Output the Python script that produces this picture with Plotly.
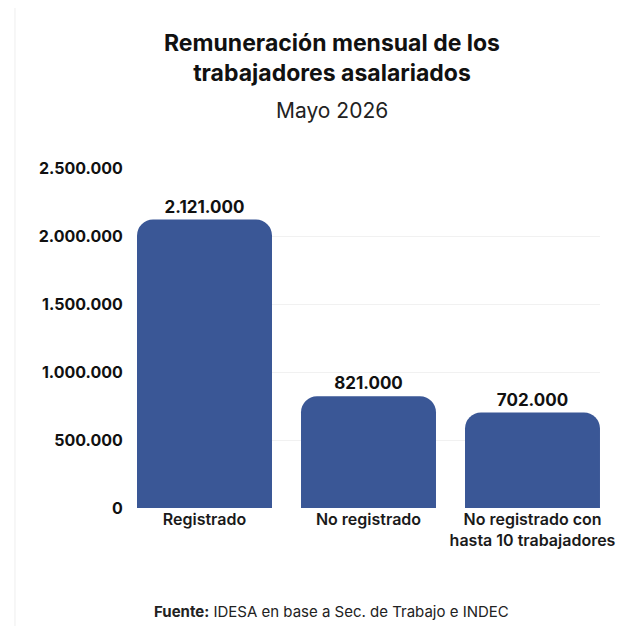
import plotly.graph_objects as go

categorias = ["Registrado", "No registrado", "No registrado con<br>hasta 10 trabajadores"]
remuneracion = [2121000, 821000, 702000]
ticks_y = [0, 500000, 1000000, 1500000, 2000000, 2500000]

BLUE = "#3a5796"
FONT = "Inter"

fig = go.Figure()
fig.add_trace(
    go.Bar(
        x=categorias,
        y=remuneracion,
        marker=dict(color=BLUE, line=dict(width=0)),
        texttemplate="%{y:,d}",
        textposition="outside",
        textfont=dict(family=FONT, size=17, color="#111111", weight="bold"),
        cliponaxis=False,
        hoverinfo="skip",
    )
)

# la página tiene 8 px de margen, por eso el lienzo es algo menor que la ventana
fig.update_layout(
    width=632,
    height=618,
    margin=dict(l=129, r=40, t=160, b=118),
    paper_bgcolor="white",
    plot_bgcolor="white",
    separators=",.",
    bargap=0.177,
    barcornerradius=16,
    showlegend=False,
    font=dict(family=FONT, color="#111111"),
)

fig.update_yaxes(
    range=[0, 2500000],
    tickvals=ticks_y,
    tickformat=",d",
    showgrid=True,
    gridcolor="#f1f1f1",
    gridwidth=1,
    zeroline=False,
    showline=False,
    ticks="outside",
    ticklen=10,
    tickcolor="rgba(0,0,0,0)",
    tickfont=dict(family=FONT, size=16, color="#111111", weight="bold"),
)
fig.update_xaxes(
    range=[-0.4116, 2.4116],
    showgrid=False,
    showline=False,
    ticks="",
    tickfont=dict(family=FONT, size=16, color="#1a1a1a", weight=600),
)

# título, subtítulo y fuente
fig.add_annotation(
    text="<b>Remuneración mensual de los<br>trabajadores asalariados</b>",
    xref="paper", yref="paper", x=0.421, y=1.0, yshift=110,
    xanchor="center", yanchor="middle", showarrow=False,
    font=dict(family=FONT, size=23, color="#111111"),
)
fig.add_annotation(
    text="Mayo 2026",
    xref="paper", yref="paper", x=0.421, y=1.0, yshift=58,
    xanchor="center", yanchor="middle", showarrow=False,
    font=dict(family=FONT, size=21, color="#222222"),
)
fig.add_annotation(
    text="<b>Fuente:</b> IDESA en base a Sec. de Trabajo e INDEC",
    xref="paper", yref="paper", x=0.421, y=0, yshift=-103,
    xanchor="center", yanchor="middle", showarrow=False,
    font=dict(family=FONT, size=15, color="#222222"),
)

# borde izquierdo tenue
fig.add_shape(
    type="line", xref="paper", yref="paper",
    x0=-0.2635, x1=-0.2635, y0=-0.35, y1=1.5,
    line=dict(color="#eeeeee", width=1),
)

fig.write_html("out.html")
